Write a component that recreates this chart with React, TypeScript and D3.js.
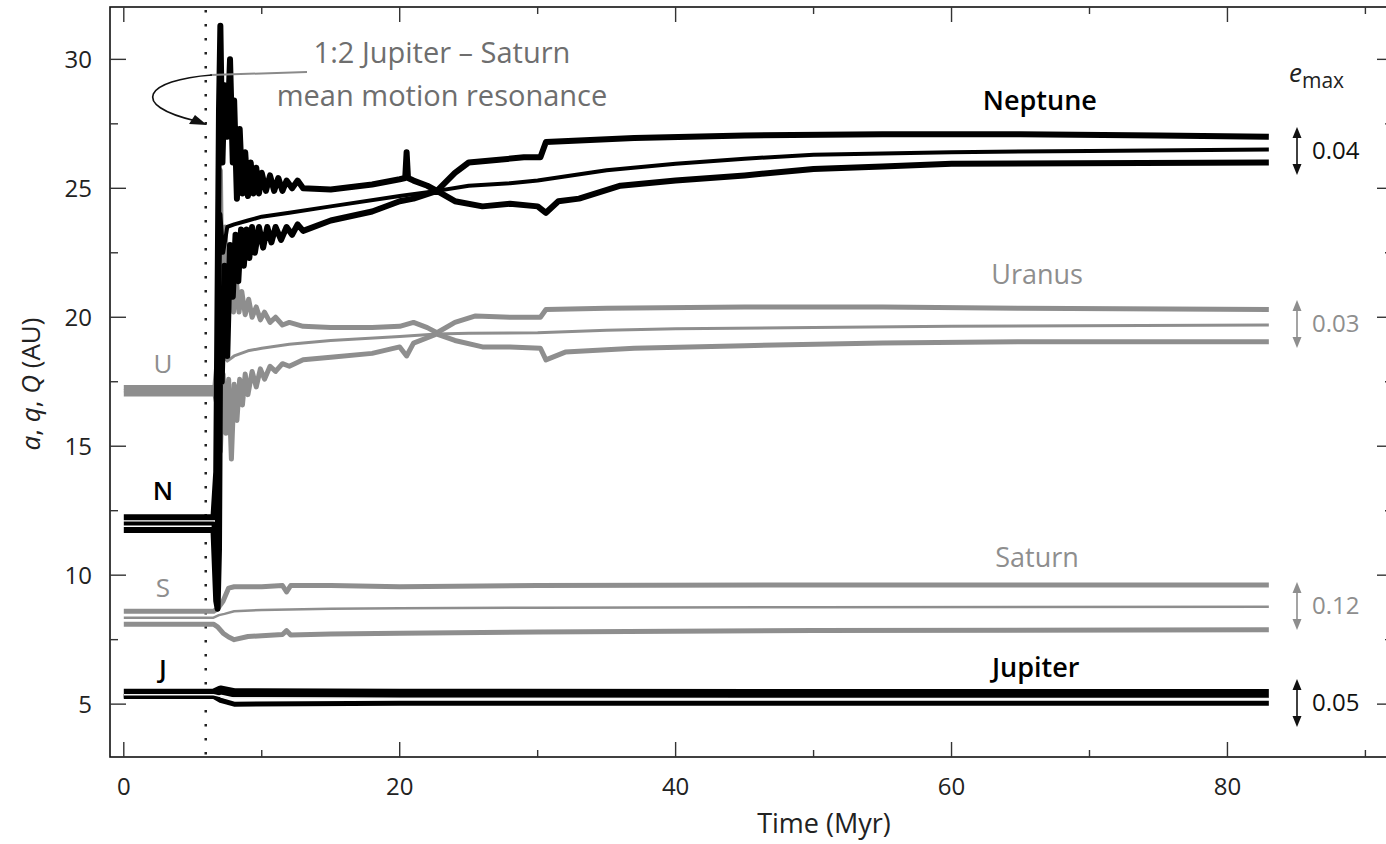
import React, { useEffect, useRef } from 'react';
import * as d3 from 'd3';

type Pt = [number, number];

// axis ticks
const xMajorTicks = [0, 20, 40, 60, 80];
const xMinorTicks = [10, 30, 50, 70, 90];
const yMajorTicks = [5, 10, 15, 20, 25, 30];
const yMinorTicks = [7.5, 12.5, 17.5, 22.5, 27.5];

const resonanceTime = 5.94; // Myr, dotted line

// Neptune: aphelion Q, semimajor a, perihelion q  [time Myr, AU]
const neptuneQ: Pt[] = [
  [0, 12.25], [6.5, 12.25], [6.7, 14], [6.9, 28], [7.0, 31.3], [7.15, 26], [7.3, 29], [7.5, 27],
  [7.7, 30.0], [7.9, 26], [8.0, 28.4], [8.2, 24.6], [8.4, 27.3], [8.6, 24.8], [8.8, 26.4], [9.0, 24.7],
  [9.2, 26.0], [9.4, 24.8], [9.6, 25.8], [9.8, 24.8], [10.0, 25.6], [10.3, 24.9], [10.6, 25.5],
  [10.9, 24.9], [11.2, 25.4], [11.5, 24.9], [11.8, 25.3], [12.2, 25.0], [12.6, 25.3], [13.0, 25.0],
  [15, 24.95], [18, 25.15], [20, 25.35], [20.4, 25.4], [20.5, 26.4], [20.6, 25.4], [21, 25.3],
  [22, 25.1], [22.7, 24.9], [24, 25.6], [25, 26.0], [27, 26.1], [29, 26.2], [30.2, 26.2], [30.6, 26.8],
  [33, 26.85], [37, 26.95], [45, 27.05], [55, 27.1], [65, 27.1], [75, 27.05], [83, 27.0],
];
const neptuneA: Pt[] = [
  [0, 12.0], [6.5, 12.0], [6.7, 10], [6.9, 20], [7.0, 24], [7.2, 22.5], [7.5, 23.5], [8, 23.6],
  [9, 23.75], [10, 23.9], [12, 24.05], [15, 24.3], [20, 24.7], [22.7, 24.9], [25, 25.1], [28, 25.2],
  [30, 25.3], [35, 25.7], [40, 25.95], [45, 26.15], [50, 26.3], [60, 26.4], [70, 26.45], [83, 26.5],
];
const neptuneQp: Pt[] = [
  [0, 11.75], [6.5, 11.75], [6.7, 9.0], [6.8, 8.7], [6.9, 11.0], [7.0, 20.5], [7.1, 17.5], [7.3, 22.0],
  [7.5, 18.5], [7.7, 22.8], [7.9, 20.8], [8.1, 23.2], [8.3, 21.4], [8.5, 23.4], [8.7, 22.0], [8.9, 23.4],
  [9.1, 22.3], [9.3, 23.5], [9.5, 22.5], [9.8, 23.5], [10.1, 22.7], [10.4, 23.5], [10.7, 22.9],
  [11.0, 23.5], [11.4, 23.0], [11.8, 23.5], [12.2, 23.2], [12.6, 23.6], [13.0, 23.35], [15, 23.75],
  [18, 24.1], [20, 24.5], [21, 24.6], [22.7, 24.9], [24, 24.5], [26, 24.3], [28, 24.4], [30, 24.3],
  [30.6, 24.05], [31.5, 24.5], [33, 24.6], [36, 25.1], [40, 25.3], [45, 25.5], [50, 25.75],
  [55, 25.85], [60, 25.95], [83, 26.0],
];

// Uranus
const uranusQ: Pt[] = [
  [0, 17.28], [6.6, 17.28], [6.8, 18.5], [7.0, 25.7], [7.15, 19.5], [7.35, 23.5], [7.55, 19.8],
  [7.75, 22.5], [7.95, 20.2], [8.15, 21.5], [8.35, 20.2], [8.55, 21.0], [8.8, 20.1], [9.05, 20.7],
  [9.3, 20.0], [9.6, 20.4], [9.9, 19.9], [10.2, 20.2], [10.6, 19.8], [11.0, 20.0], [11.5, 19.7],
  [12, 19.8], [13, 19.65], [15, 19.6], [18, 19.6], [20, 19.65], [21, 19.8], [22, 19.6], [22.7, 19.4],
  [24, 19.8], [25.5, 20.05], [28, 20.0], [30.2, 20.0], [30.6, 20.3], [35, 20.35], [45, 20.4],
  [55, 20.4], [65, 20.35], [83, 20.3],
];
const uranusA: Pt[] = [
  [0, 17.15], [6.6, 17.15], [6.8, 17.5], [7.0, 18.6], [7.5, 18.3], [8, 18.5], [9, 18.7], [10, 18.8],
  [12, 18.95], [15, 19.1], [20, 19.25], [22.7, 19.35], [25, 19.38], [30, 19.4], [35, 19.5],
  [40, 19.55], [50, 19.6], [60, 19.65], [83, 19.7],
];
const uranusQp: Pt[] = [
  [0, 17.02], [6.6, 17.02], [6.8, 16.5], [7.0, 14.8], [7.2, 17.8], [7.4, 15.5], [7.6, 17.6], [7.8, 14.5],
  [8.0, 17.4], [8.2, 16.0], [8.4, 17.6], [8.6, 16.6], [8.8, 17.8], [9.0, 17.0], [9.3, 17.9],
  [9.6, 17.3], [9.9, 18.0], [10.2, 17.6], [10.6, 18.1], [11.0, 17.9], [11.5, 18.2], [12, 18.1],
  [13, 18.35], [15, 18.45], [18, 18.6], [20, 18.85], [20.5, 18.5], [21, 19.0], [22.7, 19.35],
  [24, 19.1], [26, 18.85], [28, 18.85], [30.2, 18.8], [30.6, 18.35], [32, 18.65], [37, 18.8],
  [45, 18.9], [55, 19.0], [65, 19.05], [83, 19.05],
];

// Saturn
const saturnQ: Pt[] = [
  [0, 8.6], [6.5, 8.6], [6.8, 8.7], [7.2, 9.0], [7.6, 9.5], [8, 9.55], [10, 9.55], [11.5, 9.6],
  [11.8, 9.35], [12.1, 9.6], [15, 9.6], [20, 9.55], [30, 9.6], [50, 9.62], [83, 9.62],
];
const saturnA: Pt[] = [
  [0, 8.35], [6.5, 8.35], [6.9, 8.45], [7.3, 8.5], [8, 8.6], [10, 8.65], [15, 8.7], [20, 8.72],
  [30, 8.74], [50, 8.76], [83, 8.78],
];
const saturnQp: Pt[] = [
  [0, 8.1], [6.5, 8.1], [6.8, 8.0], [7.2, 7.75], [7.6, 7.6], [8.0, 7.5], [9, 7.62], [10, 7.65],
  [11.5, 7.7], [11.8, 7.85], [12.1, 7.68], [15, 7.72], [20, 7.75], [30, 7.8], [50, 7.85], [83, 7.88],
];

// Jupiter
const jupiterQ: Pt[] = [[0, 5.42], [6.5, 5.42], [7, 5.55], [8, 5.44], [20, 5.42], [83, 5.41]];
const jupiterA: Pt[] = [[0, 5.36], [6.5, 5.36], [7.5, 5.24], [20, 5.22], [83, 5.22]];
const jupiterQp: Pt[] = [[0, 5.3], [6.5, 5.3], [7, 5.15], [8, 5.0], [20, 5.03], [83, 5.03]];

const planetNames = ['Neptune', 'Uranus', 'Saturn', 'Jupiter'];
const planetLetters = ['N', 'U', 'S', 'J'];
const emaxValues = ['0.04', '0.03', '0.12', '0.05'];

const GRAY = '#8e8e8e';
const FONT = '"Open Sans", "Noto Sans", sans-serif';

export default function App() {
  const ref = useRef<SVGSVGElement>(null);
  const width = 1386;
  const height = 844;

  useEffect(() => {
    const svg = d3.select(ref.current);
    svg.selectAll('*').remove();

    const x = d3.scaleLinear().domain([-1, 92]).range([110, 1393]);
    const y = d3.scaleLinear().domain([2.95, 32.03]).range([757, 7]);

    const line = d3.line<Pt>().x(d => x(d[0])).y(d => y(d[1])).curve(d3.curveLinear);

    const g = svg.append('g');

    // frame
    g.append('rect')
      .attr('x', 110).attr('y', 7)
      .attr('width', 1283).attr('height', 750)
      .attr('fill', 'none').attr('stroke', '#111').attr('stroke-width', 1.6);

    // ticks (inward)
    const tick = (x1: number, y1: number, x2: number, y2: number) =>
      g.append('line').attr('x1', x1).attr('y1', y1).attr('x2', x2).attr('y2', y2)
        .attr('stroke', '#333').attr('stroke-width', 1.4);
    xMajorTicks.forEach(t => { tick(x(t), 757, x(t), 742); tick(x(t), 7, x(t), 22); });
    xMinorTicks.forEach(t => { tick(x(t), 757, x(t), 750); tick(x(t), 7, x(t), 14); });
    yMajorTicks.forEach(v => { tick(110, y(v), 126, y(v)); tick(1393, y(v), 1377, y(v)); });
    yMinorTicks.forEach(v => { tick(110, y(v), 118, y(v)); tick(1393, y(v), 1385, y(v)); });

    // tick labels
    g.selectAll('.xl').data(xMajorTicks).enter().append('text')
      .attr('x', d => x(d)).attr('y', 787).attr('dy', '0.35em')
      .attr('text-anchor', 'middle').attr('font-size', 24).attr('font-family', FONT).attr('fill', '#222')
      .text(d => d);
    g.selectAll('.yl').data(yMajorTicks).enter().append('text')
      .attr('x', 92).attr('y', d => y(d)).attr('dy', '0.35em')
      .attr('text-anchor', 'end').attr('font-size', 24).attr('font-family', FONT).attr('fill', '#222')
      .text(d => d);

    // axis titles
    g.append('text').attr('x', 824).attr('y', 824).attr('dy', '0.35em')
      .attr('text-anchor', 'middle').attr('font-size', 27).attr('font-family', FONT).attr('fill', '#222')
      .text('Time (Myr)');
    const yt = g.append('text')
      .attr('transform', 'translate(31,384) rotate(-90)').attr('dy', '0.35em')
      .attr('text-anchor', 'middle').attr('font-size', 26).attr('font-family', FONT).attr('fill', '#222');
    yt.append('tspan').attr('font-style', 'italic').text('a');
    yt.append('tspan').text(', ');
    yt.append('tspan').attr('font-style', 'italic').text('q');
    yt.append('tspan').text(', ');
    yt.append('tspan').attr('font-style', 'italic').text('Q');
    yt.append('tspan').text(' (AU)');

    // resonance dotted line
    g.append('line')
      .attr('x1', x(resonanceTime)).attr('x2', x(resonanceTime))
      .attr('y1', 10).attr('y2', 757)
      .attr('stroke', '#222').attr('stroke-width', 2.5).attr('stroke-dasharray', '2.5,11.5');

    // curves
    const draw = (data: Pt[], color: string, w: number) =>
      g.append('path').attr('d', line(data)).attr('fill', 'none')
        .attr('stroke', color).attr('stroke-width', w).attr('stroke-linejoin', 'round');

    draw(uranusQ, GRAY, 5);
    draw(uranusQp, GRAY, 5);
    draw(uranusA, GRAY, 3);
    draw(saturnQ, GRAY, 5);
    draw(saturnQp, GRAY, 5);
    draw(saturnA, GRAY, 2.5);
    draw(neptuneQ, '#000', 6);
    draw(neptuneQp, '#000', 6);
    draw(neptuneA, '#000', 4);
    draw(jupiterQ, '#000', 9);
    draw(jupiterQp, '#000', 5);
    draw(jupiterA, '#f4f4f4', 1.5);

    // annotation
    g.append('line').attr('x1', 210).attr('y1', 75).attr('x2', 307).attr('y2', 72)
      .attr('stroke', '#8a8a8a').attr('stroke-width', 2);
    g.append('path').attr('d', 'M 212 75 C 145 80, 128 105, 196 121')
      .attr('fill', 'none').attr('stroke', '#111').attr('stroke-width', 1.6);
    g.append('path').attr('d', 'M 207 125 L 189 124 L 195 115 Z').attr('fill', '#111');
    const ann = g.append('text').attr('text-anchor', 'middle')
      .attr('font-size', 29).attr('font-family', FONT).attr('fill', '#6e6e6e');
    ann.append('tspan').attr('x', 442).attr('y', 63).text('1:2 Jupiter \u2013 Saturn');
    ann.append('tspan').attr('x', 442).attr('y', 106).text('mean motion resonance');

    // planet names
    const nameColors = ['#000', GRAY, GRAY, '#000'];
    const namePos: Pt[] = [[66.4, 28.42], [66.2, 21.64], [66.2, 10.7], [66.1, 6.4]];
    planetNames.forEach((n, i) => {
      g.append('text').attr('x', x(namePos[i][0])).attr('y', y(namePos[i][1])).attr('dy', '0.35em')
        .attr('text-anchor', 'middle').attr('font-size', 27).attr('font-family', FONT)
        .attr('font-weight', i === 0 || i === 3 ? 600 : 400)
        .attr('fill', nameColors[i]).text(n);
    });
    const letterPos = [13.26, 18.19, 9.5, 6.35];
    const letterColors = ['#000', GRAY, GRAY, '#000'];
    planetLetters.forEach((l, i) => {
      g.append('text').attr('x', x(2.84)).attr('y', y(letterPos[i])).attr('dy', '0.35em')
        .attr('text-anchor', 'middle').attr('font-size', 26).attr('font-family', FONT)
        .attr('font-weight', i === 0 || i === 3 ? 600 : 400)
        .attr('fill', letterColors[i]).text(l);
    });

    // e_max column
    const em = g.append('text').attr('x', 1289).attr('y', 82)
      .attr('font-family', FONT).attr('fill', '#222');
    em.append('tspan').attr('font-size', 26).attr('font-style', 'italic').text('e');
    em.append('tspan').attr('font-size', 21).attr('dy', 6).text('max');

    const emaxY = [151, 324, 606, 703];
    const emaxColors = ['#111', GRAY, GRAY, '#111'];
    emaxValues.forEach((v, i) => {
      const cy = emaxY[i];
      const c = emaxColors[i];
      const ax = 1297;
      g.append('line').attr('x1', ax).attr('x2', ax).attr('y1', cy - 18).attr('y2', cy + 18)
        .attr('stroke', c).attr('stroke-width', 1.6);
      g.append('path').attr('d', `M ${ax} ${cy - 24} L ${ax - 4.5} ${cy - 13} L ${ax + 4.5} ${cy - 13} Z`).attr('fill', c);
      g.append('path').attr('d', `M ${ax} ${cy + 24} L ${ax - 4.5} ${cy + 13} L ${ax + 4.5} ${cy + 13} Z`).attr('fill', c);
      g.append('text').attr('x', 1312).attr('y', cy).attr('dy', '0.35em')
        .attr('font-size', 24).attr('font-family', FONT).attr('fill', c).text(v);
    });
  }, []);

  return (
    <svg ref={ref} width={width} height={height}
      style={{ position: 'absolute', left: 0, top: 0, background: '#fff' }} />
  );
}
